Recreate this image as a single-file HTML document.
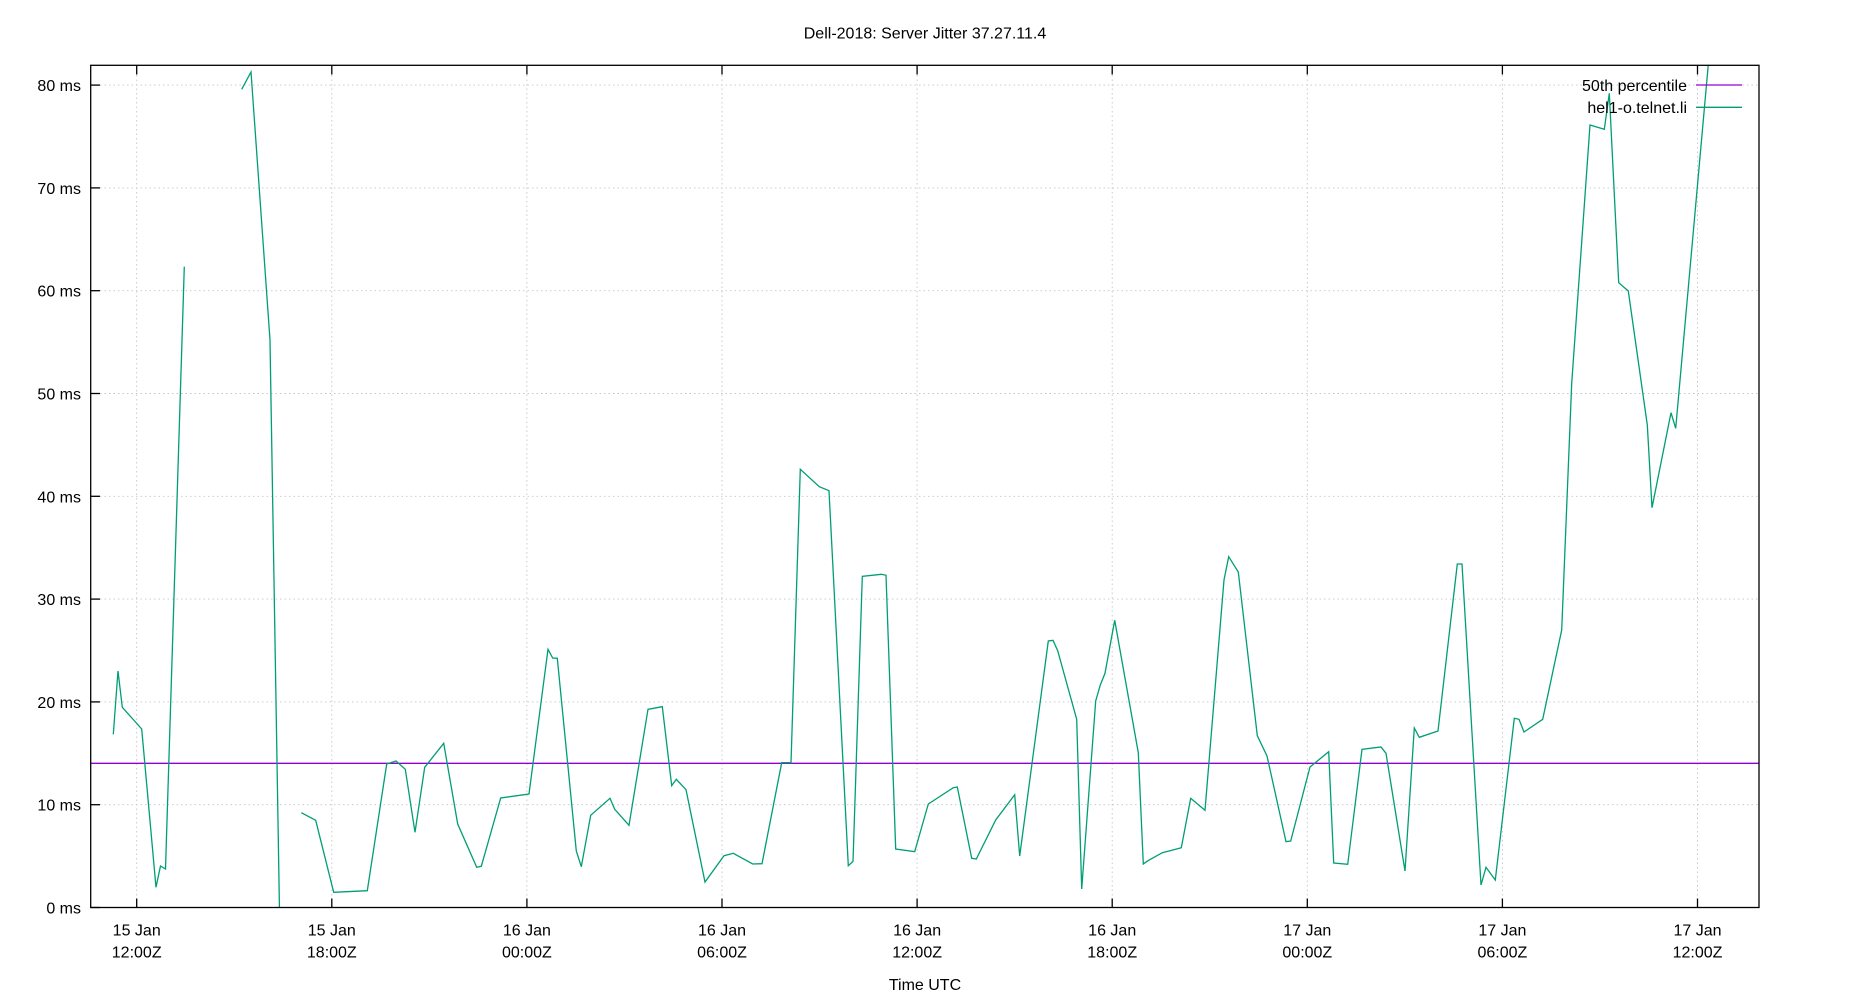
<!DOCTYPE html>
<html>
<head>
<meta charset="utf-8">
<style>
html,body{margin:0;padding:0;background:#fff;}
svg{display:block;}
text{font-family:"Liberation Sans",sans-serif;font-size:16px;fill:#000;}
</style>
</head>
<body>
<svg width="1850" height="1000" viewBox="0 0 1850 1000" xmlns="http://www.w3.org/2000/svg">
<defs>
<clipPath id="pa"><rect x="90.7" y="65.3" width="1668.3" height="842"/></clipPath>
</defs>
<rect x="0" y="0" width="1850" height="1000" fill="#fff"/>

<!-- grid -->
<g stroke="#c6c6c6" stroke-width="0.9" stroke-dasharray="1.5,3" fill="none">
<line x1="100" y1="804.7" x2="1759" y2="804.7"/>
<line x1="100" y1="701.9" x2="1759" y2="701.9"/>
<line x1="100" y1="599.1" x2="1759" y2="599.1"/>
<line x1="100" y1="496.3" x2="1759" y2="496.3"/>
<line x1="100" y1="393.5" x2="1759" y2="393.5"/>
<line x1="100" y1="290.7" x2="1759" y2="290.7"/>
<line x1="100" y1="187.9" x2="1759" y2="187.9"/>
<line x1="100" y1="85.1" x2="1759" y2="85.1"/>
<line x1="136.7" y1="75" x2="136.7" y2="898"/>
<line x1="331.8" y1="75" x2="331.8" y2="898"/>
<line x1="526.9" y1="75" x2="526.9" y2="898"/>
<line x1="722" y1="75" x2="722" y2="898"/>
<line x1="917.1" y1="75" x2="917.1" y2="898"/>
<line x1="1112.2" y1="75" x2="1112.2" y2="898"/>
<line x1="1307.3" y1="75" x2="1307.3" y2="898"/>
<line x1="1502.4" y1="75" x2="1502.4" y2="898"/>
<line x1="1697.5" y1="75" x2="1697.5" y2="898"/>
</g>

<!-- ticks -->
<g stroke="#000" stroke-width="1.3">
<line x1="90.7" y1="907.5" x2="100" y2="907.5"/>
<line x1="90.7" y1="804.7" x2="100" y2="804.7"/>
<line x1="90.7" y1="701.9" x2="100" y2="701.9"/>
<line x1="90.7" y1="599.1" x2="100" y2="599.1"/>
<line x1="90.7" y1="496.3" x2="100" y2="496.3"/>
<line x1="90.7" y1="393.5" x2="100" y2="393.5"/>
<line x1="90.7" y1="290.7" x2="100" y2="290.7"/>
<line x1="90.7" y1="187.9" x2="100" y2="187.9"/>
<line x1="90.7" y1="85.1" x2="100" y2="85.1"/>

<line x1="136.7" y1="907.5" x2="136.7" y2="898.5"/><line x1="136.7" y1="65.3" x2="136.7" y2="74.5"/>
<line x1="331.8" y1="907.5" x2="331.8" y2="898.5"/><line x1="331.8" y1="65.3" x2="331.8" y2="74.5"/>
<line x1="526.9" y1="907.5" x2="526.9" y2="898.5"/><line x1="526.9" y1="65.3" x2="526.9" y2="74.5"/>
<line x1="722" y1="907.5" x2="722" y2="898.5"/><line x1="722" y1="65.3" x2="722" y2="74.5"/>
<line x1="917.1" y1="907.5" x2="917.1" y2="898.5"/><line x1="917.1" y1="65.3" x2="917.1" y2="74.5"/>
<line x1="1112.2" y1="907.5" x2="1112.2" y2="898.5"/><line x1="1112.2" y1="65.3" x2="1112.2" y2="74.5"/>
<line x1="1307.3" y1="907.5" x2="1307.3" y2="898.5"/><line x1="1307.3" y1="65.3" x2="1307.3" y2="74.5"/>
<line x1="1502.4" y1="907.5" x2="1502.4" y2="898.5"/><line x1="1502.4" y1="65.3" x2="1502.4" y2="74.5"/>
<line x1="1697.5" y1="907.5" x2="1697.5" y2="898.5"/><line x1="1697.5" y1="65.3" x2="1697.5" y2="74.5"/>
</g>

<!-- y labels -->
<g text-anchor="end">
<text x="81" y="913.5">0 ms</text>
<text x="81" y="810.7">10 ms</text>
<text x="81" y="707.9">20 ms</text>
<text x="81" y="605.1">30 ms</text>
<text x="81" y="502.3">40 ms</text>
<text x="81" y="399.5">50 ms</text>
<text x="81" y="296.7">60 ms</text>
<text x="81" y="193.9">70 ms</text>
<text x="81" y="91.1">80 ms</text>
</g>

<!-- x labels -->
<g text-anchor="middle">
<text x="136.7" y="935.7">15 Jan</text><text x="136.7" y="957.3">12:00Z</text>
<text x="331.8" y="935.7">15 Jan</text><text x="331.8" y="957.3">18:00Z</text>
<text x="526.9" y="935.7">16 Jan</text><text x="526.9" y="957.3">00:00Z</text>
<text x="722" y="935.7">16 Jan</text><text x="722" y="957.3">06:00Z</text>
<text x="917.1" y="935.7">16 Jan</text><text x="917.1" y="957.3">12:00Z</text>
<text x="1112.2" y="935.7">16 Jan</text><text x="1112.2" y="957.3">18:00Z</text>
<text x="1307.3" y="935.7">17 Jan</text><text x="1307.3" y="957.3">00:00Z</text>
<text x="1502.4" y="935.7">17 Jan</text><text x="1502.4" y="957.3">06:00Z</text>
<text x="1697.5" y="935.7">17 Jan</text><text x="1697.5" y="957.3">12:00Z</text>
<text x="925" y="990">Time UTC</text>
<text x="925" y="38.5">Dell-2018: Server Jitter 37.27.11.4</text>
</g>

<!-- data -->
<g clip-path="url(#pa)" fill="none" stroke-linejoin="miter">
<line x1="90.7" y1="763.3" x2="1759" y2="763.3" stroke="#9400d3" stroke-width="1.3"/>
<g stroke="#009e73" stroke-width="1.3">
<polyline points="113.3,734.3 118,671 122.3,707.3 141.7,729 156,887.3 160.5,866 165.5,869 184.3,266.7"/>
<polyline points="241.7,89.3 251,72 270,340 279.5,912"/>
<polyline points="301.3,812.7 315.7,820.3 333.7,892.3 367.3,890.7 386.7,764 396,761 405.3,769.3 415,832.3 424.7,767.3 443.7,743.3 457.7,824 476.7,867.3 481.3,866.3 500.7,798 529,794 548,649.3 552.7,658 557.3,658.3 576.3,851 581.3,866.7 590.7,815.3 610,798.3 614.7,809.3 629,825.3 648,709.3 662.3,706.7 671.7,785.7 676.3,779.3 686,789.7 705,882 724,855.7 733.3,853.3 752.7,864 762,863.7 781.7,762.7 791,762.7 800.3,469.3 819.3,486.7 829,490.7 848.3,865.7 853,861.3 862.3,576.3 881.3,574.3 886,575.3 895.7,849 914.7,851.7 928.3,804 953.3,787.7 957.3,787 971.7,858.3 976.3,859 995.7,820 1014.7,794.7 1019.7,856 1048.3,641 1053,640.3 1057.7,650.7 1076.7,719.3 1081.7,889 1095.7,701 1100.3,685 1105,673.3 1114.7,620.3 1138.3,752.7 1143.3,864 1148,860.7 1162.3,852.7 1170,850.7 1181.3,847.7 1190.7,798.3 1205,810.3 1224,580 1228.7,556.7 1238.3,572 1257.3,735.7 1267,756 1286,841.7 1290.7,841 1310,767 1328.7,751.7 1333.7,863 1347.7,864.3 1362,749.3 1381,747 1386,753.3 1405,871 1414.3,728 1419.3,737.3 1438,731 1457.3,564 1462,564 1481,885 1486,867.3 1495.3,880 1514.3,718.3 1519,719.3 1524,732 1542.7,719.3 1561.7,630 1571.7,383.3 1590,125 1604.3,129.3 1609.3,93.3 1618.7,282.7 1628.3,291 1647.3,425 1652,507.7 1671,412.7 1675.7,428.3 1713,12"/>
</g>
</g>

<!-- legend -->
<g text-anchor="end">
<text x="1687" y="91">50th percentile</text>
<text x="1687" y="113">hel1-o.telnet.li</text>
</g>
<line x1="1696" y1="85" x2="1742" y2="85" stroke="#9400d3" stroke-width="1.3"/>
<line x1="1696" y1="107.3" x2="1742" y2="107.3" stroke="#009e73" stroke-width="1.3"/>

<!-- border -->
<rect x="90.7" y="65.3" width="1668.3" height="842.2" fill="none" stroke="#000" stroke-width="1.3"/>
</svg>
</body>
</html>
